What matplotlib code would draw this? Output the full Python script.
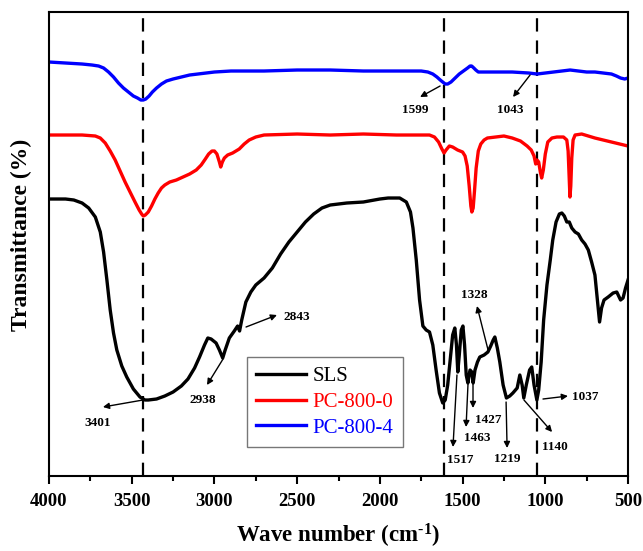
import matplotlib
matplotlib.use("Agg")
import matplotlib.pyplot as plt
from matplotlib.ticker import MultipleLocator

plt.rcParams['font.family'] = ['Liberation Serif', 'DejaVu Serif']
plt.rcParams['mathtext.fontset'] = 'custom'
plt.rcParams['mathtext.rm'] = 'Liberation Serif:bold'
plt.rcParams['mathtext.bf'] = 'Liberation Serif:bold'
plt.rcParams['mathtext.it'] = 'Liberation Serif:bold:italic'

# ---- data (wavenumber, transmittance in arbitrary offset units) ----
blue_wn = [4000, 3900, 3800, 3740, 3700, 3670, 3640, 3610, 3580, 3550, 3520, 3490, 3465, 3445, 3430, 3415,
           3395, 3375, 3350, 3320, 3290, 3250, 3200, 3150, 3100, 3050, 3000, 2900, 2700, 2500, 2300, 2100,
           1900, 1750, 1710, 1680, 1655, 1635, 1620, 1605, 1590, 1570, 1545, 1520, 1495, 1470, 1455, 1445,
           1432, 1420, 1405, 1380, 1300, 1200, 1100, 1050, 1000, 950, 900, 850, 800, 750, 700, 650, 600,
           570, 545, 520, 500]
blue_t = [414, 413, 412, 411, 410, 408, 404, 399, 393, 388, 384, 380, 378, 376, 376, 377,
          380, 384, 388, 392, 395, 397, 399, 401, 402, 403, 404, 405, 405, 406, 406, 405,
          405, 405, 404, 402, 399, 396, 394, 392, 392, 394, 398, 402, 405, 408, 410, 410,
          408, 406, 404, 404, 404, 404, 403, 402, 403, 404, 405, 406, 405, 404, 404, 403, 402,
          400, 398, 397, 398]

red_wn = [4000, 3900, 3800, 3720, 3690, 3660, 3630, 3600, 3570, 3540, 3510, 3480, 3455, 3440, 3430, 3418,
          3400, 3380, 3360, 3340, 3320, 3300, 3270, 3230, 3190, 3150, 3110, 3080, 3055, 3035, 3015, 3000,
          2985, 2970, 2962, 2952, 2940, 2920, 2890, 2850, 2820, 2790, 2750, 2700, 2500, 2300, 2100, 1900,
          1700, 1670, 1645, 1625, 1612, 1600, 1580, 1560, 1530, 1500, 1485, 1472, 1460, 1450, 1444, 1436,
          1428, 1418, 1405, 1390, 1370, 1350, 1300, 1250, 1200, 1150, 1110, 1085, 1068, 1058, 1050, 1040,
          1030, 1022, 1012, 1000, 985, 960, 930, 890, 870, 862, 856, 851, 846, 840, 832, 820, 780, 740,
          700, 650, 600, 550, 500]
red_t = [341, 341, 341, 340, 338, 333, 325, 316, 305, 294, 284, 274, 266, 262, 260, 261,
         264, 270, 277, 283, 288, 291, 294, 296, 299, 302, 306, 311, 317, 322, 325, 325,
         322, 314, 309, 314, 318, 321, 323, 327, 332, 336, 339, 341, 342, 341, 342, 341,
         341, 339, 334, 327, 323, 326, 330, 329, 326, 324, 320, 310, 290, 270, 264, 268,
         285, 308, 325, 332, 336, 338, 339, 340, 338, 335, 330, 326, 320, 312, 316, 314,
         304, 298, 306, 322, 334, 338, 339, 339, 336, 325, 300, 279, 290, 318, 336, 341, 342, 340,
         338, 336, 334, 332, 330]

sls_wn = [4000, 3900, 3850, 3800, 3760, 3720, 3690, 3670, 3650, 3630, 3610, 3590, 3560, 3530, 3490, 3450,
          3420, 3400, 3350, 3300, 3250, 3200, 3160, 3120, 3090, 3060, 3040, 3020, 2990, 2970, 2950, 2935,
          2910, 2880, 2860, 2848, 2835, 2810, 2780, 2750, 2700, 2650, 2600, 2550, 2500, 2450, 2400, 2350,
          2300, 2200, 2100, 2000, 1950, 1880, 1840, 1815, 1800, 1780, 1760, 1740, 1720, 1700, 1680, 1660,
          1640, 1620, 1605, 1590, 1575, 1560, 1547, 1537, 1529, 1520, 1508, 1498, 1488, 1478, 1468, 1455,
          1444, 1436, 1425, 1410, 1396, 1370, 1347, 1330, 1315, 1305, 1290, 1275, 1255, 1235, 1215, 1196,
          1170, 1154, 1140, 1130, 1115, 1095, 1082, 1068, 1051, 1040, 1025, 1010, 990, 970, 955, 935,
          915, 900, 885, 870, 855, 840, 820, 800, 780, 760, 740, 720, 700, 685, 672, 660, 645, 620,
          590, 568, 545, 530, 515, 500]
sls_t = [277, 277, 276, 273, 268, 259, 244, 224, 196, 166, 143, 126, 110, 99, 87, 79,
         76, 76, 77, 80, 84, 90, 97, 108, 119, 131, 138, 137, 133, 126, 118, 126,
         138, 145, 150, 145, 156, 174, 184, 191, 198, 208, 222, 234, 244, 254, 262, 268,
         271, 273, 274, 277, 278, 278, 274, 264, 248, 216, 176, 150, 146, 144, 131, 106,
         83, 73, 76, 91, 116, 141, 148, 131, 104, 121, 146, 150, 131, 101, 93, 106,
         104, 93, 106, 114, 119, 121, 124, 130, 136, 139, 128, 114, 91, 78, 80, 83,
         88, 101, 91, 78, 91, 106, 109, 91, 76, 86, 114, 156, 191, 216, 236, 254,
         262, 263, 260, 254, 254, 248, 244, 242, 236, 232, 226, 214, 201, 176, 154, 168, 176, 179,
         183, 184, 176, 178, 188, 196]

series_labels = ['SLS', 'PC-800-0', 'PC-800-4']
series_colors = ['black', '#ff0000', '#0000ff']

dashed_wn = [3430, 1615, 1050]

# annotations: label, text pos (wn, t), arrow tail (wn, t), arrow head (wn, t)
ann_labels = ['1599', '1043', '3401', '2938', '2843', '1328', '1427', '1463', '1517', '1219', '1140', '1037']
ann_text = [(1788, 366), (1213, 366), (3704, 53), (3069, 76), (2501, 159), (1431, 181),
            (1346, 56), (1413, 38), (1516, 16), (1231, 17), (941, 29), (760, 79)]
ann_tail = [(1636, 390), (1092, 401), (3432, 76), (2948, 117), (2809, 149), (1346, 126),
            (1437, 94), (1467, 93), (1534, 101), (1237, 74), (1129, 76), (1014, 77)]
ann_head = [(1757, 379), (1195, 379), (3674, 69), (3045, 91), (2622, 161), (1413, 170),
            (1437, 68), (1479, 49), (1558, 29), (1231, 28), (959, 44), (863, 80)]

# ---- plot ----
fig = plt.figure(figsize=(6.43, 5.51), dpi=100)
ax = fig.add_axes([0.0762, 0.1361, 0.9005, 0.8421])

lw = 2.4
l1, = ax.plot(sls_wn, sls_t, color=series_colors[0], lw=lw, label=series_labels[0])
l2, = ax.plot(red_wn, red_t, color=series_colors[1], lw=lw, label=series_labels[1])
l3, = ax.plot(blue_wn, blue_t, color=series_colors[2], lw=lw, label=series_labels[2])

for w in dashed_wn:
    ax.axvline(w, color='black', lw=1.6, ls=(0, (6, 4)), zorder=1)

for lab, tp, tl, hd in zip(ann_labels, ann_text, ann_tail, ann_head):
    ax.annotate('', xy=hd, xytext=tl,
                arrowprops=dict(arrowstyle='-|>', color='black', lw=1.0, mutation_scale=9,
                                shrinkA=0, shrinkB=0))
    ax.text(tp[0], tp[1], lab, ha='center', va='center', fontsize=9.5, fontweight='bold')

ax.set_xlim(4000, 500)
ax.set_ylim(0, 464)
ax.xaxis.set_major_locator(MultipleLocator(500))
ax.xaxis.set_minor_locator(MultipleLocator(250))
ax.set_yticks([])
ax.tick_params(axis='x', which='major', direction='out', length=6, width=1.5, labelsize=13.5, pad=6)
ax.tick_params(axis='x', which='minor', direction='out', length=3.5, width=1.5)
for lbl in ax.get_xticklabels():
    lbl.set_fontweight('bold')
for sp in ax.spines.values():
    sp.set_linewidth(1.5)

ax.set_xlabel(r'Wave number (cm$^{\text{-1}}$)', fontsize=16.5, fontweight='bold', labelpad=9)
ax.set_ylabel('Transmittance (%)', fontsize=17, fontweight='bold')
ax.yaxis.set_label_coords(-0.03, 0.52)

leg = ax.legend(handles=[l1, l2, l3], loc='lower left', bbox_to_anchor=(0.342, 0.0625),
                fontsize=15, frameon=True, fancybox=False, edgecolor='#555555',
                handlelength=2.4, borderpad=0.45, labelspacing=0.3, handletextpad=0.3,
                borderaxespad=0)
leg.get_frame().set_linewidth(1.0)
for txt, c in zip(leg.get_texts(), series_colors):
    txt.set_color(c)

fig.savefig('out.png', dpi=100)
